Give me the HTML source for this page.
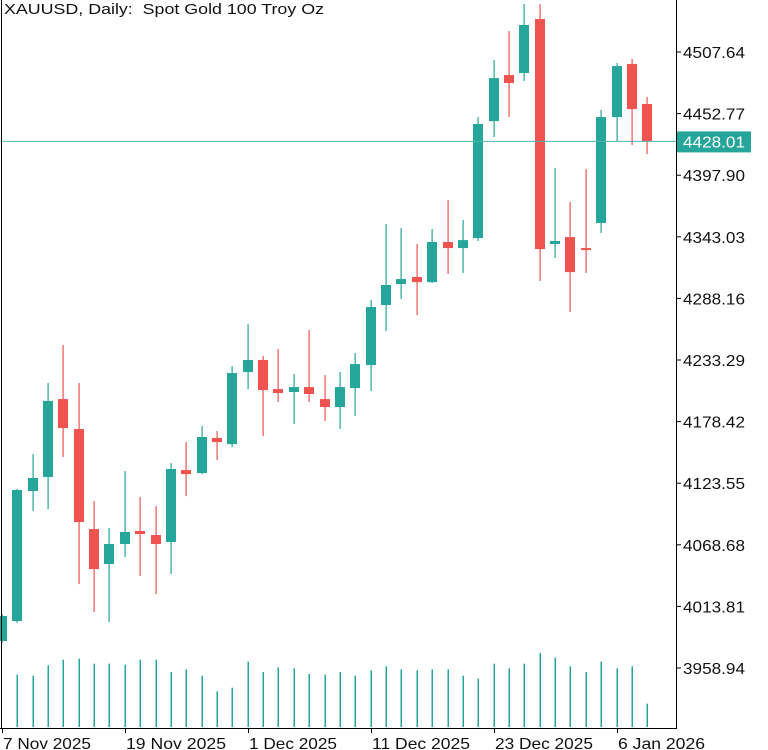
<!DOCTYPE html>
<html><head><meta charset="utf-8">
<style>
html,body{margin:0;padding:0;background:#fff;}
svg{display:block;font-family:"Liberation Sans","DejaVu Sans",sans-serif;}
</style></head>
<body>
<svg id="chart" width="768" height="750" viewBox="0 0 768 750" xmlns="http://www.w3.org/2000/svg">
<rect x="0" y="0" width="768" height="750" fill="#ffffff"/>
<text x="4" y="14" font-size="15" fill="#111" textLength="320" lengthAdjust="spacingAndGlyphs" xml:space="preserve">XAUUSD, Daily:  Spot Gold 100 Troy Oz</text>
<g id="vol"></g>
<g id="candles"></g>
<g id="axes"></g>
</svg>
<script>
const opens  = [3983.0,4000.8,4116.6,4129.1,4198.5,4171.8,4082.7,4051.6,4069.4,4081.0,4077.4,4071.2,4135.3,4132.6,4163.8,4158.4,4222.6,4233.3,4207.4,4204.8,4209.2,4198.5,4191.4,4208.3,4228.8,4282.3,4301.0,4307.2,4302.7,4338.4,4333.0,4341.9,4446.1,4487.1,4488.9,4537.0,4336.6,4342.8,4333.0,4355.3,4449.7,4496.9,4461.3];
const highs  = [4007.0,4118.4,4149.5,4212.8,4246.6,4212.8,4107.7,4083.7,4134.4,4111.2,4103.2,4141.5,4160.2,4174.5,4170.0,4227.9,4265.3,4236.8,4243.1,4220.8,4260.0,4219.9,4222.6,4239.5,4286.7,4354.4,4350.8,4336.6,4350.0,4375.8,4358.0,4449.7,4500.5,4526.3,4550.4,4550.4,4404.3,4374.0,4403.4,4456.0,4497.8,4501.4,4467.5];
const lows   = [3981.2,3999.1,4098.8,4100.5,4146.9,4033.7,4008.8,3999.9,4057.8,4040.9,4024.8,4042.7,4112.1,4131.7,4144.2,4155.8,4207.4,4165.6,4195.9,4176.3,4195.9,4178.9,4171.8,4183.4,4205.7,4259.1,4287.6,4273.3,4301.8,4309.9,4310.8,4339.3,4431.9,4449.7,4481.8,4303.6,4324.1,4276.0,4310.8,4346.4,4428.3,4424.8,4416.7];
const closes = [4005.3,4117.5,4128.2,4196.8,4172.7,4089.0,4047.1,4069.4,4080.1,4078.3,4069.4,4136.2,4131.7,4164.7,4160.2,4221.7,4233.3,4206.5,4203.9,4209.2,4203.0,4191.4,4209.2,4229.7,4280.5,4300.1,4305.4,4302.7,4338.4,4333.0,4340.1,4443.5,4484.4,4480.0,4531.7,4332.1,4339.3,4311.6,4331.2,4449.7,4495.1,4456.8,4428.01];
const volumes = [157,154,185,202,205,190,190,187,202,202,165,173,154,107,118,196,165,179,176,159,157,165,154,170,182,173,170,173,173,154,145,190,176,190,222,208,182,165,196,176,182,70];
const priceTicks = [4507.64,4452.77,4397.90,4343.03,4288.16,4233.29,4178.42,4123.55,4068.68,4013.81,3958.94];
const dateLabels = ["7 Nov 2025","19 Nov 2025","1 Dec 2025","11 Dec 2025","23 Dec 2025","6 Jan 2026"];
const dateLabelIdx = [0,8,16,24,32,40];
const lastPrice = 4428.01;

const NS="http://www.w3.org/2000/svg";
const GREEN="#26a69a", RED="#ef5350";
const xOf = i => 1.8 + 15.37*i;
const yOf = p => 52 + (4507.64 - p)*1.1227;
const volBase = 727, volScale = 1/3;
function mk(tag, attrs, parent){const e=document.createElementNS(NS,tag);for(const k in attrs)e.setAttribute(k,attrs[k]);parent.appendChild(e);return e;}

const vg=document.getElementById('vol');
volumes.forEach((v,j)=>{
  const i=j+1, x=Math.round(xOf(i));
  const r=mk('rect',{x:x-0.5,y:volBase-v*volScale,width:1.5,height:v*volScale,fill:GREEN},vg);
  
  
});

const cg=document.getElementById('candles');
opens.forEach((o,i)=>{
  const c=closes[i], h=highs[i], l=lows[i];
  const col = c>=o ? GREEN : RED;
  const x = Math.round(xOf(i));
  const g=mk('g',{},cg);
  
  
  mk('rect',{x:x-0.5,y:yOf(h),width:1.2,height:Math.max(1,yOf(l)-yOf(h)),fill:col},g);
  const top=Math.min(yOf(o),yOf(c)), bh=Math.max(2,Math.abs(yOf(o)-yOf(c)));
  mk('rect',{x:x-5,y:top,width:10,height:bh,fill:col},g);
});

const ag=document.getElementById('axes');
const pl=mk('line',{x1:0,x2:676,y1:yOf(lastPrice),y2:yOf(lastPrice),stroke:"#4db6ac","stroke-width":1},ag);


const ya=mk('line',{x1:676.5,x2:676.5,y1:0,y2:728,stroke:"#000","stroke-width":1},ag);


const xa=mk('line',{x1:0,x2:677,y1:728.5,y2:728.5,stroke:"#000","stroke-width":1},ag);


const lb=mk('line',{x1:1.5,x2:1.5,y1:0,y2:728,stroke:"#000","stroke-width":1},ag);


priceTicks.forEach(p=>{
  const y=yOf(p);
  mk('line',{x1:676,x2:681,y1:y,y2:y,stroke:"#000","stroke-width":1},ag);
  const t=mk('text',{x:683,y:y+6,"font-size":"16",fill:"#111",textLength:"62",lengthAdjust:"spacingAndGlyphs"},ag);
  t.textContent=p.toFixed(2);
  
  
});
const dateWidths=[88,100,88,98,98,87];
dateLabels.forEach((d,k)=>{
  const x=Math.round(xOf(dateLabelIdx[k]));
  mk('line',{x1:x+0.5,x2:x+0.5,y1:728,y2:733,stroke:"#000","stroke-width":1},ag);
  const t=mk('text',{x:x+1,y:749,"font-size":"16",fill:"#111",textLength:dateWidths[k],lengthAdjust:"spacingAndGlyphs"},ag);
  t.textContent=d;
  
  
});
const ly=yOf(lastPrice);
const box=mk('rect',{x:677,y:ly-10,width:74,height:21,fill:GREEN},ag);


const lt=mk('text',{x:683,y:ly+6,"font-size":"16",fill:"#fff",textLength:"62",lengthAdjust:"spacingAndGlyphs"},ag);
lt.textContent=lastPrice.toFixed(2);


</script>
</body></html>
